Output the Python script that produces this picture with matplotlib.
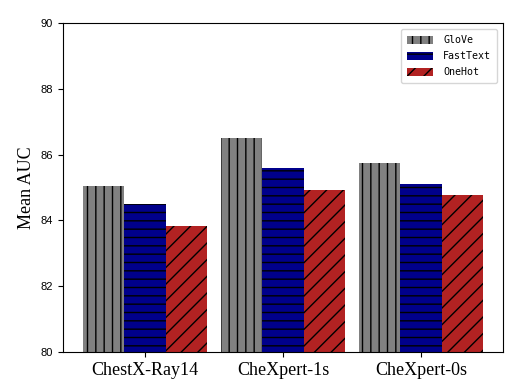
import numpy as np
import matplotlib
matplotlib.use("Agg")
import matplotlib.pyplot as plt

datasets = ["ChestX-Ray14", "CheXpert-1s", "CheXpert-0s"]
glove = [85.05, 86.50, 85.74]
fasttext = [84.50, 85.59, 85.10]
onehot = [83.83, 84.92, 84.77]

plt.rcParams['hatch.linewidth'] = 1.0

fig = plt.figure(figsize=(5.24, 3.86), dpi=100)
ax = fig.add_axes([0.120, 0.088, 0.840, 0.852])

x = np.arange(len(datasets))
w = 0.3
ax.bar(x - w, glove, w, color="gray", edgecolor="black", linewidth=0,
       hatch="||", label="GloVe")
ax.bar(x, fasttext, w, color="darkblue", edgecolor="black", linewidth=0,
       hatch="--", label="FastText")
ax.bar(x + w, onehot, w, color="firebrick", edgecolor="black", linewidth=0,
       hatch="//", label="OneHot")

ax.set_ylim(80, 90)
ax.set_yticks(np.arange(80, 91, 2))
ax.set_xticks(x)
ax.set_xticklabels(datasets, fontsize=13, family="Liberation Serif")
for t in ax.get_yticklabels():
    t.set_fontsize(8)
    t.set_family("Liberation Sans")
ax.set_ylabel("Mean AUC", fontsize=13, family="Liberation Serif")

ax.legend(loc="upper right", prop={"family": "DejaVu Sans Mono", "size": 7.2},
          handlelength=2.6, handleheight=0.8, labelspacing=0.6,
          borderpad=0.6, handletextpad=1.0, borderaxespad=0.6)

fig.savefig("out.png", dpi=100)
